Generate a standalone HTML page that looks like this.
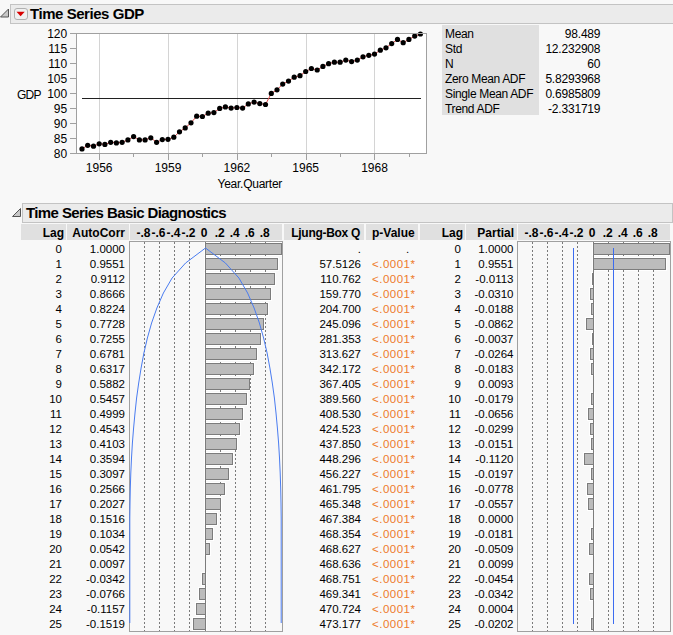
<!DOCTYPE html><html><head><meta charset="utf-8"><style>
html,body{margin:0;padding:0;}
body{width:673px;height:635px;overflow:hidden;position:relative;background:#f8f8f8;font-family:"Liberation Sans", sans-serif;color:#000;}
.a{position:absolute;white-space:nowrap;}
.r{text-align:right;}
.hb{position:absolute;background:#ebebeb;border:1px solid #c3c3c3;box-sizing:border-box;}
.ttl{position:absolute;font-weight:bold;font-size:15px;line-height:15px;white-space:nowrap;}
.ch{position:absolute;background:#e0e0e0;top:224px;height:16px;}
.cht{position:absolute;font-weight:bold;font-size:12px;line-height:12px;top:227px;white-space:nowrap;}
.d{position:absolute;font-size:11.5px;line-height:12px;white-space:nowrap;}
</style></head><body>
<svg class="a" style="left:0;top:0" width="673" height="635">
<path d="M0.5 17 L8.5 9 L8.5 17 Z" fill="#c8c8c8" stroke="#555" stroke-width="1"/>
<path d="M12.5 216.5 L20.5 208.5 L20.5 216.5 Z" fill="#c8c8c8" stroke="#555" stroke-width="1"/>
</svg>
<div class="hb" style="left:10px;top:4px;width:670px;height:20px;"></div>
<div class="a" style="left:14px;top:8px;width:14px;height:12px;box-sizing:border-box;border:1px solid #b0b0b0;border-radius:3px;background:#f0f0f0;"></div>
<svg class="a" style="left:0;top:0" width="40" height="30"><path d="M16.5 11.8 L24.7 11.8 L20.6 16.2 Z" fill="#d80000"/></svg>
<div class="ttl" style="left:30px;top:6px;letter-spacing:-0.45px;">Time Series GDP</div>
<svg class="a" style="left:0;top:0" width="673" height="200">
<rect x="76.5" y="33.5" width="350" height="120" fill="#fff" stroke="none"/>
<line x1="99.5" y1="33" x2="99.5" y2="153" stroke="#d4d4d4" stroke-width="1"/>
<line x1="168.5" y1="33" x2="168.5" y2="153" stroke="#d4d4d4" stroke-width="1"/>
<line x1="237.5" y1="33" x2="237.5" y2="153" stroke="#d4d4d4" stroke-width="1"/>
<line x1="306.5" y1="33" x2="306.5" y2="153" stroke="#d4d4d4" stroke-width="1"/>
<line x1="374.5" y1="33" x2="374.5" y2="153" stroke="#d4d4d4" stroke-width="1"/>
<line x1="70" y1="33.5" x2="76" y2="33.5" stroke="#a0a0a0" stroke-width="1"/>
<line x1="70" y1="48.5" x2="76" y2="48.5" stroke="#a0a0a0" stroke-width="1"/>
<line x1="70" y1="63.5" x2="76" y2="63.5" stroke="#a0a0a0" stroke-width="1"/>
<line x1="70" y1="78.5" x2="76" y2="78.5" stroke="#a0a0a0" stroke-width="1"/>
<line x1="70" y1="93.5" x2="76" y2="93.5" stroke="#a0a0a0" stroke-width="1"/>
<line x1="70" y1="108.5" x2="76" y2="108.5" stroke="#a0a0a0" stroke-width="1"/>
<line x1="70" y1="123.5" x2="76" y2="123.5" stroke="#a0a0a0" stroke-width="1"/>
<line x1="70" y1="138.5" x2="76" y2="138.5" stroke="#a0a0a0" stroke-width="1"/>
<line x1="70" y1="153.5" x2="76" y2="153.5" stroke="#a0a0a0" stroke-width="1"/>
<line x1="99.5" y1="153" x2="99.5" y2="160" stroke="#a0a0a0" stroke-width="1"/>
<line x1="168.5" y1="153" x2="168.5" y2="160" stroke="#a0a0a0" stroke-width="1"/>
<line x1="237.5" y1="153" x2="237.5" y2="160" stroke="#a0a0a0" stroke-width="1"/>
<line x1="306.5" y1="153" x2="306.5" y2="160" stroke="#a0a0a0" stroke-width="1"/>
<line x1="374.5" y1="153" x2="374.5" y2="160" stroke="#a0a0a0" stroke-width="1"/>
<line x1="133.5" y1="153" x2="133.5" y2="157" stroke="#a0a0a0" stroke-width="1"/>
<line x1="202.5" y1="153" x2="202.5" y2="157" stroke="#a0a0a0" stroke-width="1"/>
<line x1="271.5" y1="153" x2="271.5" y2="157" stroke="#a0a0a0" stroke-width="1"/>
<line x1="340.5" y1="153" x2="340.5" y2="157" stroke="#a0a0a0" stroke-width="1"/>
<line x1="409.5" y1="153" x2="409.5" y2="157" stroke="#a0a0a0" stroke-width="1"/>
<line x1="82" y1="98.5" x2="421" y2="98.5" stroke="#202020" stroke-width="1"/>
<polyline fill="none" stroke="#e04848" stroke-width="1" points="82.0,148.9 87.7,145.3 93.5,146.2 99.2,143.8 104.9,144.4 110.7,142.3 116.4,142.9 122.1,142.3 127.9,139.9 133.6,136.6 139.4,139.9 145.1,139.9 150.8,137.8 156.6,142.3 162.3,139.6 168.0,139.3 173.8,137.2 179.5,131.8 185.2,127.9 191.0,122.8 196.7,116.2 202.4,116.5 208.2,113.2 213.9,112.6 219.7,108.4 225.4,106.9 231.1,108.1 236.9,107.5 242.6,108.1 248.3,103.9 254.1,102.1 259.8,103.6 265.5,104.5 271.3,93.4 277.0,89.8 282.7,84.1 288.5,81.1 294.2,77.2 300.0,75.7 305.7,71.5 311.4,68.5 317.2,70.0 322.9,66.4 328.6,63.7 334.4,62.2 340.1,62.2 345.8,60.1 351.6,61.6 357.3,60.1 363.0,56.8 368.8,55.3 374.5,54.1 380.3,50.2 386.0,47.8 391.7,43.6 397.5,39.4 403.2,42.7 408.9,39.4 414.7,36.1 420.4,34.0"/>
<circle cx="82.0" cy="148.9" r="2.6" fill="#000"/>
<circle cx="87.7" cy="145.3" r="2.6" fill="#000"/>
<circle cx="93.5" cy="146.2" r="2.6" fill="#000"/>
<circle cx="99.2" cy="143.8" r="2.6" fill="#000"/>
<circle cx="104.9" cy="144.4" r="2.6" fill="#000"/>
<circle cx="110.7" cy="142.3" r="2.6" fill="#000"/>
<circle cx="116.4" cy="142.9" r="2.6" fill="#000"/>
<circle cx="122.1" cy="142.3" r="2.6" fill="#000"/>
<circle cx="127.9" cy="139.9" r="2.6" fill="#000"/>
<circle cx="133.6" cy="136.6" r="2.6" fill="#000"/>
<circle cx="139.4" cy="139.9" r="2.6" fill="#000"/>
<circle cx="145.1" cy="139.9" r="2.6" fill="#000"/>
<circle cx="150.8" cy="137.8" r="2.6" fill="#000"/>
<circle cx="156.6" cy="142.3" r="2.6" fill="#000"/>
<circle cx="162.3" cy="139.6" r="2.6" fill="#000"/>
<circle cx="168.0" cy="139.3" r="2.6" fill="#000"/>
<circle cx="173.8" cy="137.2" r="2.6" fill="#000"/>
<circle cx="179.5" cy="131.8" r="2.6" fill="#000"/>
<circle cx="185.2" cy="127.9" r="2.6" fill="#000"/>
<circle cx="191.0" cy="122.8" r="2.6" fill="#000"/>
<circle cx="196.7" cy="116.2" r="2.6" fill="#000"/>
<circle cx="202.4" cy="116.5" r="2.6" fill="#000"/>
<circle cx="208.2" cy="113.2" r="2.6" fill="#000"/>
<circle cx="213.9" cy="112.6" r="2.6" fill="#000"/>
<circle cx="219.7" cy="108.4" r="2.6" fill="#000"/>
<circle cx="225.4" cy="106.9" r="2.6" fill="#000"/>
<circle cx="231.1" cy="108.1" r="2.6" fill="#000"/>
<circle cx="236.9" cy="107.5" r="2.6" fill="#000"/>
<circle cx="242.6" cy="108.1" r="2.6" fill="#000"/>
<circle cx="248.3" cy="103.9" r="2.6" fill="#000"/>
<circle cx="254.1" cy="102.1" r="2.6" fill="#000"/>
<circle cx="259.8" cy="103.6" r="2.6" fill="#000"/>
<circle cx="265.5" cy="104.5" r="2.6" fill="#000"/>
<circle cx="271.3" cy="93.4" r="2.6" fill="#000"/>
<circle cx="277.0" cy="89.8" r="2.6" fill="#000"/>
<circle cx="282.7" cy="84.1" r="2.6" fill="#000"/>
<circle cx="288.5" cy="81.1" r="2.6" fill="#000"/>
<circle cx="294.2" cy="77.2" r="2.6" fill="#000"/>
<circle cx="300.0" cy="75.7" r="2.6" fill="#000"/>
<circle cx="305.7" cy="71.5" r="2.6" fill="#000"/>
<circle cx="311.4" cy="68.5" r="2.6" fill="#000"/>
<circle cx="317.2" cy="70.0" r="2.6" fill="#000"/>
<circle cx="322.9" cy="66.4" r="2.6" fill="#000"/>
<circle cx="328.6" cy="63.7" r="2.6" fill="#000"/>
<circle cx="334.4" cy="62.2" r="2.6" fill="#000"/>
<circle cx="340.1" cy="62.2" r="2.6" fill="#000"/>
<circle cx="345.8" cy="60.1" r="2.6" fill="#000"/>
<circle cx="351.6" cy="61.6" r="2.6" fill="#000"/>
<circle cx="357.3" cy="60.1" r="2.6" fill="#000"/>
<circle cx="363.0" cy="56.8" r="2.6" fill="#000"/>
<circle cx="368.8" cy="55.3" r="2.6" fill="#000"/>
<circle cx="374.5" cy="54.1" r="2.6" fill="#000"/>
<circle cx="380.3" cy="50.2" r="2.6" fill="#000"/>
<circle cx="386.0" cy="47.8" r="2.6" fill="#000"/>
<circle cx="391.7" cy="43.6" r="2.6" fill="#000"/>
<circle cx="397.5" cy="39.4" r="2.6" fill="#000"/>
<circle cx="403.2" cy="42.7" r="2.6" fill="#000"/>
<circle cx="408.9" cy="39.4" r="2.6" fill="#000"/>
<circle cx="414.7" cy="36.1" r="2.6" fill="#000"/>
<circle cx="420.4" cy="34.0" r="2.6" fill="#000"/>
<rect x="76.5" y="33.5" width="350" height="120" fill="none" stroke="#a0a0a0" stroke-width="1"/>
</svg>
<div class="d r" style="font-size:12px;right:606px;top:28px;letter-spacing:-0.1px;">120</div>
<div class="d r" style="font-size:12px;right:606px;top:43px;letter-spacing:-0.1px;">115</div>
<div class="d r" style="font-size:12px;right:606px;top:58px;letter-spacing:-0.1px;">110</div>
<div class="d r" style="font-size:12px;right:606px;top:73px;letter-spacing:-0.1px;">105</div>
<div class="d r" style="font-size:12px;right:606px;top:88px;letter-spacing:-0.1px;">100</div>
<div class="d r" style="font-size:12px;right:606px;top:103px;letter-spacing:-0.1px;">95</div>
<div class="d r" style="font-size:12px;right:606px;top:118px;letter-spacing:-0.1px;">90</div>
<div class="d r" style="font-size:12px;right:606px;top:133px;letter-spacing:-0.1px;">85</div>
<div class="d r" style="font-size:12px;right:606px;top:148px;letter-spacing:-0.1px;">80</div>
<div class="d" style="font-size:12px;left:17px;top:89px;letter-spacing:-0.8px;">GDP</div>
<div class="d" style="font-size:12px;left:79.2px;width:40px;text-align:center;top:162px;">1956</div>
<div class="d" style="font-size:12px;left:148.0px;width:40px;text-align:center;top:162px;">1959</div>
<div class="d" style="font-size:12px;left:216.9px;width:40px;text-align:center;top:162px;">1962</div>
<div class="d" style="font-size:12px;left:285.7px;width:40px;text-align:center;top:162px;">1965</div>
<div class="d" style="font-size:12px;left:354.5px;width:40px;text-align:center;top:162px;">1968</div>
<div class="d" style="font-size:12px;left:217.5px;top:178px;letter-spacing:-0.25px;">Year.Quarter</div>
<div class="a" style="left:442px;top:25px;width:97px;height:90px;background:#e0e0e0;"></div>
<div class="d" style="left:445px;top:28px;font-size:12px;letter-spacing:-0.35px;">Mean</div>
<div class="d r" style="right:72.70000000000005px;top:28px;font-size:12px;letter-spacing:-0.2px;">98.489</div>
<div class="d" style="left:445px;top:43px;font-size:12px;letter-spacing:-0.35px;">Std</div>
<div class="d r" style="right:72.70000000000005px;top:43px;font-size:12px;letter-spacing:-0.2px;">12.232908</div>
<div class="d" style="left:445px;top:58px;font-size:12px;letter-spacing:-0.35px;">N</div>
<div class="d r" style="right:72.70000000000005px;top:58px;font-size:12px;letter-spacing:-0.2px;">60</div>
<div class="d" style="left:445px;top:73px;font-size:12px;letter-spacing:-0.35px;">Zero Mean ADF</div>
<div class="d r" style="right:72.70000000000005px;top:73px;font-size:12px;letter-spacing:-0.2px;">5.8293968</div>
<div class="d" style="left:445px;top:88px;font-size:12px;letter-spacing:-0.35px;">Single Mean ADF</div>
<div class="d r" style="right:72.70000000000005px;top:88px;font-size:12px;letter-spacing:-0.2px;">0.6985809</div>
<div class="d" style="left:445px;top:103px;font-size:12px;letter-spacing:-0.35px;">Trend ADF</div>
<div class="d r" style="right:72.70000000000005px;top:103px;font-size:12px;letter-spacing:-0.2px;">-2.331719</div>
<div class="hb" style="left:22px;top:203px;width:651px;height:20px;"></div>
<div class="ttl" style="left:26px;top:205px;letter-spacing:-0.6px;">Time Series Basic Diagnostics</div>
<div class="ch" style="left:21px;width:45px;"></div>
<div class="ch" style="left:67px;width:62px;"></div>
<div class="ch" style="left:130px;width:152px;"></div>
<div class="ch" style="left:284px;width:80px;"></div>
<div class="ch" style="left:366px;width:52px;"></div>
<div class="ch" style="left:420px;width:45px;"></div>
<div class="ch" style="left:466px;width:51px;"></div>
<div class="ch" style="left:518px;width:152px;"></div>
<div class="cht r" style="right:609px;">Lag</div>
<div class="cht r" style="right:548px;">AutoCorr</div>
<div class="cht r" style="right:313px;letter-spacing:-0.3px;">Ljung-Box Q</div>
<div class="cht" style="left:372px;">p-Value</div>
<div class="cht r" style="right:210px;">Lag</div>
<div class="cht r" style="right:159px;">Partial</div>
<div class="cht" style="left:133.5px;width:20px;text-align:center;">-.8</div>
<div class="cht" style="left:148.5px;width:20px;text-align:center;">-.6</div>
<div class="cht" style="left:163.5px;width:20px;text-align:center;">-.4</div>
<div class="cht" style="left:178.5px;width:20px;text-align:center;">-.2</div>
<div class="cht" style="left:194.0px;width:20px;text-align:center;">0</div>
<div class="cht" style="left:209.8px;width:20px;text-align:center;">.2</div>
<div class="cht" style="left:224.8px;width:20px;text-align:center;">.4</div>
<div class="cht" style="left:239.8px;width:20px;text-align:center;">.6</div>
<div class="cht" style="left:254.8px;width:20px;text-align:center;">.8</div>
<div class="cht" style="left:521.5px;width:20px;text-align:center;">-.8</div>
<div class="cht" style="left:536.5px;width:20px;text-align:center;">-.6</div>
<div class="cht" style="left:551.5px;width:20px;text-align:center;">-.4</div>
<div class="cht" style="left:566.5px;width:20px;text-align:center;">-.2</div>
<div class="cht" style="left:582.0px;width:20px;text-align:center;">0</div>
<div class="cht" style="left:597.8px;width:20px;text-align:center;">.2</div>
<div class="cht" style="left:612.8px;width:20px;text-align:center;">.4</div>
<div class="cht" style="left:627.8px;width:20px;text-align:center;">.6</div>
<div class="cht" style="left:642.8px;width:20px;text-align:center;">.8</div>
<svg class="a" style="left:0;top:0" width="673" height="635">
<defs><clipPath id="c129"><rect x="130" y="242" width="152" height="389"/></clipPath></defs>
<rect x="205.5" y="243.5" width="76.0" height="11" fill="#fff" stroke="#fff" stroke-width="3"/>
<rect x="205.5" y="258.5" width="72.0" height="11" fill="#fff" stroke="#fff" stroke-width="3"/>
<rect x="205.5" y="273.5" width="69.0" height="11" fill="#fff" stroke="#fff" stroke-width="3"/>
<rect x="205.5" y="288.5" width="65.0" height="11" fill="#fff" stroke="#fff" stroke-width="3"/>
<rect x="205.5" y="303.5" width="62.0" height="11" fill="#fff" stroke="#fff" stroke-width="3"/>
<rect x="205.5" y="318.5" width="58.0" height="11" fill="#fff" stroke="#fff" stroke-width="3"/>
<rect x="205.5" y="333.5" width="55.0" height="11" fill="#fff" stroke="#fff" stroke-width="3"/>
<rect x="205.5" y="348.5" width="51.0" height="11" fill="#fff" stroke="#fff" stroke-width="3"/>
<rect x="205.5" y="363.5" width="48.0" height="11" fill="#fff" stroke="#fff" stroke-width="3"/>
<rect x="205.5" y="378.5" width="44.0" height="11" fill="#fff" stroke="#fff" stroke-width="3"/>
<rect x="205.5" y="393.5" width="41.0" height="11" fill="#fff" stroke="#fff" stroke-width="3"/>
<rect x="205.5" y="408.5" width="37.0" height="11" fill="#fff" stroke="#fff" stroke-width="3"/>
<rect x="205.5" y="423.5" width="34.0" height="11" fill="#fff" stroke="#fff" stroke-width="3"/>
<rect x="205.5" y="438.5" width="31.0" height="11" fill="#fff" stroke="#fff" stroke-width="3"/>
<rect x="205.5" y="453.5" width="27.0" height="11" fill="#fff" stroke="#fff" stroke-width="3"/>
<rect x="205.5" y="468.5" width="23.0" height="11" fill="#fff" stroke="#fff" stroke-width="3"/>
<rect x="205.5" y="483.5" width="19.0" height="11" fill="#fff" stroke="#fff" stroke-width="3"/>
<rect x="205.5" y="498.5" width="15.0" height="11" fill="#fff" stroke="#fff" stroke-width="3"/>
<rect x="205.5" y="513.5" width="11.0" height="11" fill="#fff" stroke="#fff" stroke-width="3"/>
<rect x="205.5" y="528.5" width="7.0" height="11" fill="#fff" stroke="#fff" stroke-width="3"/>
<rect x="205.5" y="543.5" width="4.0" height="11" fill="#fff" stroke="#fff" stroke-width="3"/>
<rect x="205.5" y="558.5" width="0.0" height="11" fill="#fff" stroke="#fff" stroke-width="3"/>
<rect x="202.5" y="573.5" width="3.0" height="11" fill="#fff" stroke="#fff" stroke-width="3"/>
<rect x="199.5" y="588.5" width="6.0" height="11" fill="#fff" stroke="#fff" stroke-width="3"/>
<rect x="196.5" y="603.5" width="9.0" height="11" fill="#fff" stroke="#fff" stroke-width="3"/>
<rect x="193.5" y="618.5" width="12.0" height="11" fill="#fff" stroke="#fff" stroke-width="3"/>
<line x1="144.5" y1="242" x2="144.5" y2="631" stroke="#7a7a7a" stroke-width="1" stroke-dasharray="2,2"/>
<line x1="159.5" y1="242" x2="159.5" y2="631" stroke="#7a7a7a" stroke-width="1" stroke-dasharray="2,2"/>
<line x1="174.5" y1="242" x2="174.5" y2="631" stroke="#7a7a7a" stroke-width="1" stroke-dasharray="2,2"/>
<line x1="189.5" y1="242" x2="189.5" y2="631" stroke="#7a7a7a" stroke-width="1" stroke-dasharray="2,2"/>
<line x1="220.5" y1="242" x2="220.5" y2="631" stroke="#7a7a7a" stroke-width="1" stroke-dasharray="2,2"/>
<line x1="235.5" y1="242" x2="235.5" y2="631" stroke="#7a7a7a" stroke-width="1" stroke-dasharray="2,2"/>
<line x1="250.5" y1="242" x2="250.5" y2="631" stroke="#7a7a7a" stroke-width="1" stroke-dasharray="2,2"/>
<line x1="265.5" y1="242" x2="265.5" y2="631" stroke="#7a7a7a" stroke-width="1" stroke-dasharray="2,2"/>
<rect x="205.5" y="243.5" width="76.0" height="11" fill="#bcbcbc" stroke="#7c7c7c" stroke-width="1"/>
<rect x="205.5" y="258.5" width="72.0" height="11" fill="#bcbcbc" stroke="#7c7c7c" stroke-width="1"/>
<rect x="205.5" y="273.5" width="69.0" height="11" fill="#bcbcbc" stroke="#7c7c7c" stroke-width="1"/>
<rect x="205.5" y="288.5" width="65.0" height="11" fill="#bcbcbc" stroke="#7c7c7c" stroke-width="1"/>
<rect x="205.5" y="303.5" width="62.0" height="11" fill="#bcbcbc" stroke="#7c7c7c" stroke-width="1"/>
<rect x="205.5" y="318.5" width="58.0" height="11" fill="#bcbcbc" stroke="#7c7c7c" stroke-width="1"/>
<rect x="205.5" y="333.5" width="55.0" height="11" fill="#bcbcbc" stroke="#7c7c7c" stroke-width="1"/>
<rect x="205.5" y="348.5" width="51.0" height="11" fill="#bcbcbc" stroke="#7c7c7c" stroke-width="1"/>
<rect x="205.5" y="363.5" width="48.0" height="11" fill="#bcbcbc" stroke="#7c7c7c" stroke-width="1"/>
<rect x="205.5" y="378.5" width="44.0" height="11" fill="#bcbcbc" stroke="#7c7c7c" stroke-width="1"/>
<rect x="205.5" y="393.5" width="41.0" height="11" fill="#bcbcbc" stroke="#7c7c7c" stroke-width="1"/>
<rect x="205.5" y="408.5" width="37.0" height="11" fill="#bcbcbc" stroke="#7c7c7c" stroke-width="1"/>
<rect x="205.5" y="423.5" width="34.0" height="11" fill="#bcbcbc" stroke="#7c7c7c" stroke-width="1"/>
<rect x="205.5" y="438.5" width="31.0" height="11" fill="#bcbcbc" stroke="#7c7c7c" stroke-width="1"/>
<rect x="205.5" y="453.5" width="27.0" height="11" fill="#bcbcbc" stroke="#7c7c7c" stroke-width="1"/>
<rect x="205.5" y="468.5" width="23.0" height="11" fill="#bcbcbc" stroke="#7c7c7c" stroke-width="1"/>
<rect x="205.5" y="483.5" width="19.0" height="11" fill="#bcbcbc" stroke="#7c7c7c" stroke-width="1"/>
<rect x="205.5" y="498.5" width="15.0" height="11" fill="#bcbcbc" stroke="#7c7c7c" stroke-width="1"/>
<rect x="205.5" y="513.5" width="11.0" height="11" fill="#bcbcbc" stroke="#7c7c7c" stroke-width="1"/>
<rect x="205.5" y="528.5" width="7.0" height="11" fill="#bcbcbc" stroke="#7c7c7c" stroke-width="1"/>
<rect x="205.5" y="543.5" width="4.0" height="11" fill="#bcbcbc" stroke="#7c7c7c" stroke-width="1"/>
<rect x="205.5" y="558.5" width="0.0" height="11" fill="#bcbcbc" stroke="#7c7c7c" stroke-width="1"/>
<rect x="202.5" y="573.5" width="3.0" height="11" fill="#bcbcbc" stroke="#7c7c7c" stroke-width="1"/>
<rect x="199.5" y="588.5" width="6.0" height="11" fill="#bcbcbc" stroke="#7c7c7c" stroke-width="1"/>
<rect x="196.5" y="603.5" width="9.0" height="11" fill="#bcbcbc" stroke="#7c7c7c" stroke-width="1"/>
<rect x="193.5" y="618.5" width="12.0" height="11" fill="#bcbcbc" stroke="#7c7c7c" stroke-width="1"/>
<line x1="205.5" y1="241" x2="205.5" y2="631" stroke="#7c7c7c" stroke-width="1"/>
<rect x="129.5" y="241.5" width="153" height="390" fill="none" stroke="#a0a0a0" stroke-width="1"/>
<polyline fill="none" stroke="#4a7cf0" stroke-width="1" points="129.8,623.0 129.8,608.0 129.8,593.0 129.8,578.0 129.8,563.0 129.8,548.0 129.8,533.0 129.8,518.0 130.0,503.0 130.3,488.0 130.8,473.0 131.5,458.0 132.4,443.0 133.6,428.0 135.0,413.0 136.6,398.0 138.7,383.0 141.1,368.0 143.9,353.0 147.4,338.0 151.6,323.0 156.9,308.0 163.4,293.0 172.1,278.0 185.6,263.0 205.5,248.0 225.4,263.0 238.9,278.0 247.6,293.0 254.1,308.0 259.4,323.0 263.6,338.0 267.1,353.0 269.9,368.0 272.3,383.0 274.4,398.0 276.0,413.0 277.4,428.0 278.6,443.0 279.5,458.0 280.2,473.0 280.7,488.0 281.0,503.0 281.2,518.0 281.2,533.0 281.2,548.0 281.2,563.0 281.2,578.0 281.2,593.0 281.2,608.0 281.2,623.0"/>
</svg>
<svg class="a" style="left:0;top:0" width="673" height="635">
<defs><clipPath id="c517"><rect x="518" y="242" width="152" height="389"/></clipPath></defs>
<rect x="593.5" y="243.5" width="76.0" height="11" fill="#fff" stroke="#fff" stroke-width="3"/>
<rect x="593.5" y="258.5" width="72.0" height="11" fill="#fff" stroke="#fff" stroke-width="3"/>
<rect x="592.5" y="273.5" width="1.0" height="11" fill="#fff" stroke="#fff" stroke-width="3"/>
<rect x="590.5" y="288.5" width="3.0" height="11" fill="#fff" stroke="#fff" stroke-width="3"/>
<rect x="591.5" y="303.5" width="2.0" height="11" fill="#fff" stroke="#fff" stroke-width="3"/>
<rect x="586.5" y="318.5" width="7.0" height="11" fill="#fff" stroke="#fff" stroke-width="3"/>
<rect x="592.5" y="333.5" width="1.0" height="11" fill="#fff" stroke="#fff" stroke-width="3"/>
<rect x="590.5" y="348.5" width="3.0" height="11" fill="#fff" stroke="#fff" stroke-width="3"/>
<rect x="591.5" y="363.5" width="2.0" height="11" fill="#fff" stroke="#fff" stroke-width="3"/>
<rect x="593.5" y="378.5" width="0.0" height="11" fill="#fff" stroke="#fff" stroke-width="3"/>
<rect x="591.5" y="393.5" width="2.0" height="11" fill="#fff" stroke="#fff" stroke-width="3"/>
<rect x="588.5" y="408.5" width="5.0" height="11" fill="#fff" stroke="#fff" stroke-width="3"/>
<rect x="590.5" y="423.5" width="3.0" height="11" fill="#fff" stroke="#fff" stroke-width="3"/>
<rect x="591.5" y="438.5" width="2.0" height="11" fill="#fff" stroke="#fff" stroke-width="3"/>
<rect x="584.5" y="453.5" width="9.0" height="11" fill="#fff" stroke="#fff" stroke-width="3"/>
<rect x="591.5" y="468.5" width="2.0" height="11" fill="#fff" stroke="#fff" stroke-width="3"/>
<rect x="587.5" y="483.5" width="6.0" height="11" fill="#fff" stroke="#fff" stroke-width="3"/>
<rect x="588.5" y="498.5" width="5.0" height="11" fill="#fff" stroke="#fff" stroke-width="3"/>
<rect x="593.5" y="513.5" width="0.0" height="11" fill="#fff" stroke="#fff" stroke-width="3"/>
<rect x="591.5" y="528.5" width="2.0" height="11" fill="#fff" stroke="#fff" stroke-width="3"/>
<rect x="589.5" y="543.5" width="4.0" height="11" fill="#fff" stroke="#fff" stroke-width="3"/>
<rect x="593.5" y="558.5" width="0.0" height="11" fill="#fff" stroke="#fff" stroke-width="3"/>
<rect x="589.5" y="573.5" width="4.0" height="11" fill="#fff" stroke="#fff" stroke-width="3"/>
<rect x="590.5" y="588.5" width="3.0" height="11" fill="#fff" stroke="#fff" stroke-width="3"/>
<rect x="593.5" y="603.5" width="0.0" height="11" fill="#fff" stroke="#fff" stroke-width="3"/>
<rect x="591.5" y="618.5" width="2.0" height="11" fill="#fff" stroke="#fff" stroke-width="3"/>
<line x1="532.5" y1="242" x2="532.5" y2="631" stroke="#7a7a7a" stroke-width="1" stroke-dasharray="2,2"/>
<line x1="547.5" y1="242" x2="547.5" y2="631" stroke="#7a7a7a" stroke-width="1" stroke-dasharray="2,2"/>
<line x1="562.5" y1="242" x2="562.5" y2="631" stroke="#7a7a7a" stroke-width="1" stroke-dasharray="2,2"/>
<line x1="577.5" y1="242" x2="577.5" y2="631" stroke="#7a7a7a" stroke-width="1" stroke-dasharray="2,2"/>
<line x1="608.5" y1="242" x2="608.5" y2="631" stroke="#7a7a7a" stroke-width="1" stroke-dasharray="2,2"/>
<line x1="623.5" y1="242" x2="623.5" y2="631" stroke="#7a7a7a" stroke-width="1" stroke-dasharray="2,2"/>
<line x1="638.5" y1="242" x2="638.5" y2="631" stroke="#7a7a7a" stroke-width="1" stroke-dasharray="2,2"/>
<line x1="653.5" y1="242" x2="653.5" y2="631" stroke="#7a7a7a" stroke-width="1" stroke-dasharray="2,2"/>
<rect x="593.5" y="243.5" width="76.0" height="11" fill="#bcbcbc" stroke="#7c7c7c" stroke-width="1"/>
<rect x="593.5" y="258.5" width="72.0" height="11" fill="#bcbcbc" stroke="#7c7c7c" stroke-width="1"/>
<rect x="592.5" y="273.5" width="1.0" height="11" fill="#bcbcbc" stroke="#7c7c7c" stroke-width="1"/>
<rect x="590.5" y="288.5" width="3.0" height="11" fill="#bcbcbc" stroke="#7c7c7c" stroke-width="1"/>
<rect x="591.5" y="303.5" width="2.0" height="11" fill="#bcbcbc" stroke="#7c7c7c" stroke-width="1"/>
<rect x="586.5" y="318.5" width="7.0" height="11" fill="#bcbcbc" stroke="#7c7c7c" stroke-width="1"/>
<rect x="592.5" y="333.5" width="1.0" height="11" fill="#bcbcbc" stroke="#7c7c7c" stroke-width="1"/>
<rect x="590.5" y="348.5" width="3.0" height="11" fill="#bcbcbc" stroke="#7c7c7c" stroke-width="1"/>
<rect x="591.5" y="363.5" width="2.0" height="11" fill="#bcbcbc" stroke="#7c7c7c" stroke-width="1"/>
<rect x="593.5" y="378.5" width="0.0" height="11" fill="#bcbcbc" stroke="#7c7c7c" stroke-width="1"/>
<rect x="591.5" y="393.5" width="2.0" height="11" fill="#bcbcbc" stroke="#7c7c7c" stroke-width="1"/>
<rect x="588.5" y="408.5" width="5.0" height="11" fill="#bcbcbc" stroke="#7c7c7c" stroke-width="1"/>
<rect x="590.5" y="423.5" width="3.0" height="11" fill="#bcbcbc" stroke="#7c7c7c" stroke-width="1"/>
<rect x="591.5" y="438.5" width="2.0" height="11" fill="#bcbcbc" stroke="#7c7c7c" stroke-width="1"/>
<rect x="584.5" y="453.5" width="9.0" height="11" fill="#bcbcbc" stroke="#7c7c7c" stroke-width="1"/>
<rect x="591.5" y="468.5" width="2.0" height="11" fill="#bcbcbc" stroke="#7c7c7c" stroke-width="1"/>
<rect x="587.5" y="483.5" width="6.0" height="11" fill="#bcbcbc" stroke="#7c7c7c" stroke-width="1"/>
<rect x="588.5" y="498.5" width="5.0" height="11" fill="#bcbcbc" stroke="#7c7c7c" stroke-width="1"/>
<rect x="593.5" y="513.5" width="0.0" height="11" fill="#bcbcbc" stroke="#7c7c7c" stroke-width="1"/>
<rect x="591.5" y="528.5" width="2.0" height="11" fill="#bcbcbc" stroke="#7c7c7c" stroke-width="1"/>
<rect x="589.5" y="543.5" width="4.0" height="11" fill="#bcbcbc" stroke="#7c7c7c" stroke-width="1"/>
<rect x="593.5" y="558.5" width="0.0" height="11" fill="#bcbcbc" stroke="#7c7c7c" stroke-width="1"/>
<rect x="589.5" y="573.5" width="4.0" height="11" fill="#bcbcbc" stroke="#7c7c7c" stroke-width="1"/>
<rect x="590.5" y="588.5" width="3.0" height="11" fill="#bcbcbc" stroke="#7c7c7c" stroke-width="1"/>
<rect x="593.5" y="603.5" width="0.0" height="11" fill="#bcbcbc" stroke="#7c7c7c" stroke-width="1"/>
<rect x="591.5" y="618.5" width="2.0" height="11" fill="#bcbcbc" stroke="#7c7c7c" stroke-width="1"/>
<line x1="593.5" y1="241" x2="593.5" y2="631" stroke="#7c7c7c" stroke-width="1"/>
<rect x="517.5" y="241.5" width="153" height="390" fill="none" stroke="#a0a0a0" stroke-width="1"/>
<line x1="573.5" y1="248.0" x2="573.5" y2="624.0" stroke="#3c6cf0" stroke-width="1"/><line x1="613.5" y1="248.0" x2="613.5" y2="624.0" stroke="#3c6cf0" stroke-width="1"/>
</svg>
<div class="d r" style="right:611px;top:242.5px;">0</div>
<div class="d r" style="right:548px;top:242.5px;">1.0000</div>
<div class="d r" style="right:312px;top:242.5px;">.</div>
<div class="d" style="left:406px;top:242.5px;">.</div>
<div class="d r" style="right:212px;top:242.5px;">0</div>
<div class="d r" style="right:159.5px;top:242.5px;">1.0000</div>
<div class="d r" style="right:611px;top:257.5px;">1</div>
<div class="d r" style="right:548px;top:257.5px;">0.9551</div>
<div class="d r" style="right:312px;top:257.5px;">57.5126</div>
<div class="d" style="left:372px;top:257.5px;color:#ee7a2a;letter-spacing:0.5px;">&lt;.0001*</div>
<div class="d r" style="right:212px;top:257.5px;">1</div>
<div class="d r" style="right:159.5px;top:257.5px;">0.9551</div>
<div class="d r" style="right:611px;top:272.5px;">2</div>
<div class="d r" style="right:548px;top:272.5px;">0.9112</div>
<div class="d r" style="right:312px;top:272.5px;">110.762</div>
<div class="d" style="left:372px;top:272.5px;color:#ee7a2a;letter-spacing:0.5px;">&lt;.0001*</div>
<div class="d r" style="right:212px;top:272.5px;">2</div>
<div class="d r" style="right:159.5px;top:272.5px;">-0.0113</div>
<div class="d r" style="right:611px;top:287.5px;">3</div>
<div class="d r" style="right:548px;top:287.5px;">0.8666</div>
<div class="d r" style="right:312px;top:287.5px;">159.770</div>
<div class="d" style="left:372px;top:287.5px;color:#ee7a2a;letter-spacing:0.5px;">&lt;.0001*</div>
<div class="d r" style="right:212px;top:287.5px;">3</div>
<div class="d r" style="right:159.5px;top:287.5px;">-0.0310</div>
<div class="d r" style="right:611px;top:302.5px;">4</div>
<div class="d r" style="right:548px;top:302.5px;">0.8224</div>
<div class="d r" style="right:312px;top:302.5px;">204.700</div>
<div class="d" style="left:372px;top:302.5px;color:#ee7a2a;letter-spacing:0.5px;">&lt;.0001*</div>
<div class="d r" style="right:212px;top:302.5px;">4</div>
<div class="d r" style="right:159.5px;top:302.5px;">-0.0188</div>
<div class="d r" style="right:611px;top:317.5px;">5</div>
<div class="d r" style="right:548px;top:317.5px;">0.7728</div>
<div class="d r" style="right:312px;top:317.5px;">245.096</div>
<div class="d" style="left:372px;top:317.5px;color:#ee7a2a;letter-spacing:0.5px;">&lt;.0001*</div>
<div class="d r" style="right:212px;top:317.5px;">5</div>
<div class="d r" style="right:159.5px;top:317.5px;">-0.0862</div>
<div class="d r" style="right:611px;top:332.5px;">6</div>
<div class="d r" style="right:548px;top:332.5px;">0.7255</div>
<div class="d r" style="right:312px;top:332.5px;">281.353</div>
<div class="d" style="left:372px;top:332.5px;color:#ee7a2a;letter-spacing:0.5px;">&lt;.0001*</div>
<div class="d r" style="right:212px;top:332.5px;">6</div>
<div class="d r" style="right:159.5px;top:332.5px;">-0.0037</div>
<div class="d r" style="right:611px;top:347.5px;">7</div>
<div class="d r" style="right:548px;top:347.5px;">0.6781</div>
<div class="d r" style="right:312px;top:347.5px;">313.627</div>
<div class="d" style="left:372px;top:347.5px;color:#ee7a2a;letter-spacing:0.5px;">&lt;.0001*</div>
<div class="d r" style="right:212px;top:347.5px;">7</div>
<div class="d r" style="right:159.5px;top:347.5px;">-0.0264</div>
<div class="d r" style="right:611px;top:362.5px;">8</div>
<div class="d r" style="right:548px;top:362.5px;">0.6317</div>
<div class="d r" style="right:312px;top:362.5px;">342.172</div>
<div class="d" style="left:372px;top:362.5px;color:#ee7a2a;letter-spacing:0.5px;">&lt;.0001*</div>
<div class="d r" style="right:212px;top:362.5px;">8</div>
<div class="d r" style="right:159.5px;top:362.5px;">-0.0183</div>
<div class="d r" style="right:611px;top:377.5px;">9</div>
<div class="d r" style="right:548px;top:377.5px;">0.5882</div>
<div class="d r" style="right:312px;top:377.5px;">367.405</div>
<div class="d" style="left:372px;top:377.5px;color:#ee7a2a;letter-spacing:0.5px;">&lt;.0001*</div>
<div class="d r" style="right:212px;top:377.5px;">9</div>
<div class="d r" style="right:159.5px;top:377.5px;">0.0093</div>
<div class="d r" style="right:611px;top:392.5px;">10</div>
<div class="d r" style="right:548px;top:392.5px;">0.5457</div>
<div class="d r" style="right:312px;top:392.5px;">389.560</div>
<div class="d" style="left:372px;top:392.5px;color:#ee7a2a;letter-spacing:0.5px;">&lt;.0001*</div>
<div class="d r" style="right:212px;top:392.5px;">10</div>
<div class="d r" style="right:159.5px;top:392.5px;">-0.0179</div>
<div class="d r" style="right:611px;top:407.5px;">11</div>
<div class="d r" style="right:548px;top:407.5px;">0.4999</div>
<div class="d r" style="right:312px;top:407.5px;">408.530</div>
<div class="d" style="left:372px;top:407.5px;color:#ee7a2a;letter-spacing:0.5px;">&lt;.0001*</div>
<div class="d r" style="right:212px;top:407.5px;">11</div>
<div class="d r" style="right:159.5px;top:407.5px;">-0.0656</div>
<div class="d r" style="right:611px;top:422.5px;">12</div>
<div class="d r" style="right:548px;top:422.5px;">0.4543</div>
<div class="d r" style="right:312px;top:422.5px;">424.523</div>
<div class="d" style="left:372px;top:422.5px;color:#ee7a2a;letter-spacing:0.5px;">&lt;.0001*</div>
<div class="d r" style="right:212px;top:422.5px;">12</div>
<div class="d r" style="right:159.5px;top:422.5px;">-0.0299</div>
<div class="d r" style="right:611px;top:437.5px;">13</div>
<div class="d r" style="right:548px;top:437.5px;">0.4103</div>
<div class="d r" style="right:312px;top:437.5px;">437.850</div>
<div class="d" style="left:372px;top:437.5px;color:#ee7a2a;letter-spacing:0.5px;">&lt;.0001*</div>
<div class="d r" style="right:212px;top:437.5px;">13</div>
<div class="d r" style="right:159.5px;top:437.5px;">-0.0151</div>
<div class="d r" style="right:611px;top:452.5px;">14</div>
<div class="d r" style="right:548px;top:452.5px;">0.3594</div>
<div class="d r" style="right:312px;top:452.5px;">448.296</div>
<div class="d" style="left:372px;top:452.5px;color:#ee7a2a;letter-spacing:0.5px;">&lt;.0001*</div>
<div class="d r" style="right:212px;top:452.5px;">14</div>
<div class="d r" style="right:159.5px;top:452.5px;">-0.1120</div>
<div class="d r" style="right:611px;top:467.5px;">15</div>
<div class="d r" style="right:548px;top:467.5px;">0.3097</div>
<div class="d r" style="right:312px;top:467.5px;">456.227</div>
<div class="d" style="left:372px;top:467.5px;color:#ee7a2a;letter-spacing:0.5px;">&lt;.0001*</div>
<div class="d r" style="right:212px;top:467.5px;">15</div>
<div class="d r" style="right:159.5px;top:467.5px;">-0.0197</div>
<div class="d r" style="right:611px;top:482.5px;">16</div>
<div class="d r" style="right:548px;top:482.5px;">0.2566</div>
<div class="d r" style="right:312px;top:482.5px;">461.795</div>
<div class="d" style="left:372px;top:482.5px;color:#ee7a2a;letter-spacing:0.5px;">&lt;.0001*</div>
<div class="d r" style="right:212px;top:482.5px;">16</div>
<div class="d r" style="right:159.5px;top:482.5px;">-0.0778</div>
<div class="d r" style="right:611px;top:497.5px;">17</div>
<div class="d r" style="right:548px;top:497.5px;">0.2027</div>
<div class="d r" style="right:312px;top:497.5px;">465.348</div>
<div class="d" style="left:372px;top:497.5px;color:#ee7a2a;letter-spacing:0.5px;">&lt;.0001*</div>
<div class="d r" style="right:212px;top:497.5px;">17</div>
<div class="d r" style="right:159.5px;top:497.5px;">-0.0557</div>
<div class="d r" style="right:611px;top:512.5px;">18</div>
<div class="d r" style="right:548px;top:512.5px;">0.1516</div>
<div class="d r" style="right:312px;top:512.5px;">467.384</div>
<div class="d" style="left:372px;top:512.5px;color:#ee7a2a;letter-spacing:0.5px;">&lt;.0001*</div>
<div class="d r" style="right:212px;top:512.5px;">18</div>
<div class="d r" style="right:159.5px;top:512.5px;">0.0000</div>
<div class="d r" style="right:611px;top:527.5px;">19</div>
<div class="d r" style="right:548px;top:527.5px;">0.1034</div>
<div class="d r" style="right:312px;top:527.5px;">468.354</div>
<div class="d" style="left:372px;top:527.5px;color:#ee7a2a;letter-spacing:0.5px;">&lt;.0001*</div>
<div class="d r" style="right:212px;top:527.5px;">19</div>
<div class="d r" style="right:159.5px;top:527.5px;">-0.0181</div>
<div class="d r" style="right:611px;top:542.5px;">20</div>
<div class="d r" style="right:548px;top:542.5px;">0.0542</div>
<div class="d r" style="right:312px;top:542.5px;">468.627</div>
<div class="d" style="left:372px;top:542.5px;color:#ee7a2a;letter-spacing:0.5px;">&lt;.0001*</div>
<div class="d r" style="right:212px;top:542.5px;">20</div>
<div class="d r" style="right:159.5px;top:542.5px;">-0.0509</div>
<div class="d r" style="right:611px;top:557.5px;">21</div>
<div class="d r" style="right:548px;top:557.5px;">0.0097</div>
<div class="d r" style="right:312px;top:557.5px;">468.636</div>
<div class="d" style="left:372px;top:557.5px;color:#ee7a2a;letter-spacing:0.5px;">&lt;.0001*</div>
<div class="d r" style="right:212px;top:557.5px;">21</div>
<div class="d r" style="right:159.5px;top:557.5px;">0.0099</div>
<div class="d r" style="right:611px;top:572.5px;">22</div>
<div class="d r" style="right:548px;top:572.5px;">-0.0342</div>
<div class="d r" style="right:312px;top:572.5px;">468.751</div>
<div class="d" style="left:372px;top:572.5px;color:#ee7a2a;letter-spacing:0.5px;">&lt;.0001*</div>
<div class="d r" style="right:212px;top:572.5px;">22</div>
<div class="d r" style="right:159.5px;top:572.5px;">-0.0454</div>
<div class="d r" style="right:611px;top:587.5px;">23</div>
<div class="d r" style="right:548px;top:587.5px;">-0.0766</div>
<div class="d r" style="right:312px;top:587.5px;">469.341</div>
<div class="d" style="left:372px;top:587.5px;color:#ee7a2a;letter-spacing:0.5px;">&lt;.0001*</div>
<div class="d r" style="right:212px;top:587.5px;">23</div>
<div class="d r" style="right:159.5px;top:587.5px;">-0.0342</div>
<div class="d r" style="right:611px;top:602.5px;">24</div>
<div class="d r" style="right:548px;top:602.5px;">-0.1157</div>
<div class="d r" style="right:312px;top:602.5px;">470.724</div>
<div class="d" style="left:372px;top:602.5px;color:#ee7a2a;letter-spacing:0.5px;">&lt;.0001*</div>
<div class="d r" style="right:212px;top:602.5px;">24</div>
<div class="d r" style="right:159.5px;top:602.5px;">0.0004</div>
<div class="d r" style="right:611px;top:617.5px;">25</div>
<div class="d r" style="right:548px;top:617.5px;">-0.1519</div>
<div class="d r" style="right:312px;top:617.5px;">473.177</div>
<div class="d" style="left:372px;top:617.5px;color:#ee7a2a;letter-spacing:0.5px;">&lt;.0001*</div>
<div class="d r" style="right:212px;top:617.5px;">25</div>
<div class="d r" style="right:159.5px;top:617.5px;">-0.0202</div>
</body></html>
